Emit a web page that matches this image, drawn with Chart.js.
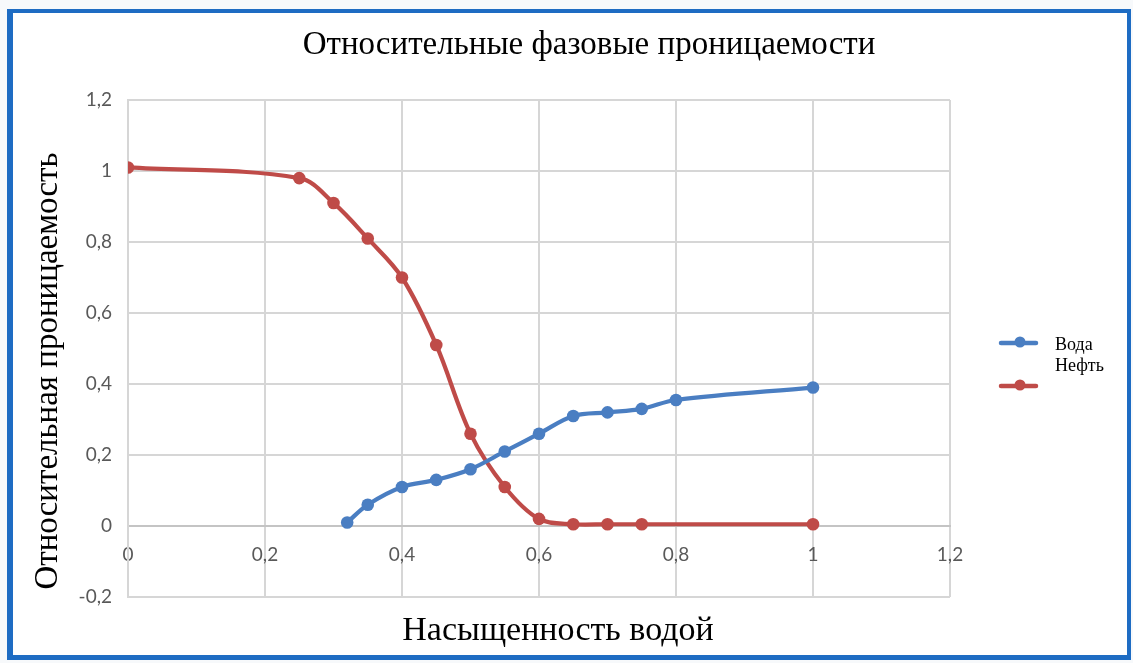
<!DOCTYPE html>
<html>
<head>
<meta charset="utf-8">
<script src="https://cdn.jsdelivr.net/npm/chart.js@4.4.1/dist/chart.umd.min.js"></script>
<style>
  html, body { margin: 0; padding: 0; background: #ffffff; }
  canvas { display: block; }
</style>
</head>
<body>
<canvas id="kr" width="1133" height="663"></canvas>
<script>
// Texts
const chartTitle = 'Относительные фазовые проницаемости';
const xAxisTitle = 'Насыщенность водой';
const yAxisTitle = 'Относительная проницаемость';
const seriesNames = ['Вода', 'Нефть'];

// Water relative permeability vs water saturation
const waterSat = [0.32, 0.35, 0.40, 0.45, 0.50, 0.55, 0.60, 0.65, 0.70, 0.75, 0.80, 1.00];
const waterKr  = [0.01, 0.06, 0.11, 0.13, 0.16, 0.21, 0.26, 0.31, 0.32, 0.33, 0.355, 0.39];

// Oil relative permeability vs water saturation
const oilSat = [0.00, 0.25, 0.30, 0.35, 0.40, 0.45, 0.50, 0.55, 0.60, 0.65, 0.70, 0.75, 1.00];
const oilKr  = [1.01, 0.98, 0.91, 0.81, 0.70, 0.51, 0.26, 0.11, 0.02, 0.005, 0.005, 0.005, 0.005];

// Axis ticks
const xTickValues = [0, 0.2, 0.4, 0.6, 0.8, 1, 1.2];
const xTickLabels = ['0', '0,2', '0,4', '0,6', '0,8', '1', '1,2'];
const yTickValues = [-0.2, 0, 0.2, 0.4, 0.6, 0.8, 1, 1.2];
const yTickLabels = ['-0,2', '0', '0,2', '0,4', '0,6', '0,8', '1', '1,2'];

const seriesColors = ['#4A7EC2', '#BF4B48'];
const gridColor = '#d6d6d6';
const tickFont = { family: 'Lato', size: 19 };
const tickColor = '#595959';
const serif = '"Liberation Serif", "DejaVu Serif", serif';

const toPoints = (xs, ys) => xs.map((x, i) => ({ x: x, y: ys[i] }));

// Page frame: light surround, white sheet, blue border
const framePlugin = {
  id: 'frame',
  beforeDraw(chart) {
    const ctx = chart.ctx;
    const W = chart.width, H = chart.height;
    ctx.save();
    ctx.fillStyle = '#f7f9fb';
    ctx.fillRect(0, 0, W, H);
    ctx.fillStyle = '#ffffff';
    ctx.fillRect(12, 13, W - 17, H - 19);
    ctx.fillStyle = '#1e6cc3';
    ctx.fillRect(7, 9, 6, H - 14);        // left
    ctx.fillRect(7, 9, W - 9, 4);         // top
    ctx.fillRect(W - 6, 9, 4, H - 14);    // right
    ctx.fillRect(7, H - 8, W - 9, 5);     // bottom
    ctx.restore();
  }
};

// Chart title, axis titles and legend
const textPlugin = {
  id: 'texts',
  afterDraw(chart) {
    const ctx = chart.ctx;
    ctx.save();
    ctx.fillStyle = '#000000';
    ctx.textAlign = 'center';
    ctx.textBaseline = 'middle';

    ctx.font = '33px ' + serif;
    ctx.fillText(chartTitle, 589, 45);

    ctx.font = '34px ' + serif;
    ctx.fillText(xAxisTitle, 558, 631);

    ctx.save();
    ctx.translate(48, 371);
    ctx.rotate(-Math.PI / 2);
    ctx.font = '33px ' + serif;
    ctx.fillText(yAxisTitle, 0, 0);
    ctx.restore();

    // legend
    const rows = [{ line: 343, text: 345 }, { line: 386, text: 366 }];
    chart.data.datasets.forEach((ds, i) => {
      const r = rows[i];
      ctx.strokeStyle = ds.borderColor;
      ctx.lineWidth = 4.5;
      ctx.lineCap = 'round';
      ctx.beginPath();
      ctx.moveTo(1001, r.line);
      ctx.lineTo(1036, r.line);
      ctx.stroke();
      ctx.fillStyle = ds.borderColor;
      ctx.beginPath();
      ctx.arc(1020, r.line - 1, 5.5, 0, Math.PI * 2);
      ctx.fill();
      ctx.fillStyle = '#000000';
      ctx.textAlign = 'left';
      ctx.font = '18px ' + serif;
      ctx.fillText(ds.label, 1055, r.text);
    });
    ctx.restore();
  }
};

const makeDataset = (label, pts, color) => ({
  label: label,
  data: pts,
  borderColor: color,
  backgroundColor: color,
  borderWidth: 4.2,
  pointRadius: 6.3,
  pointBorderWidth: 0,
  pointBackgroundColor: color,
  tension: 0.35,
  fill: false
});

new Chart(document.getElementById('kr'), {
  type: 'line',
  data: {
    datasets: [
      makeDataset(seriesNames[0], toPoints(waterSat, waterKr), seriesColors[0]),
      makeDataset(seriesNames[1], toPoints(oilSat, oilKr), seriesColors[1])
    ]
  },
  options: {
    responsive: false,
    animation: false,
    events: [],
    layout: { padding: { top: 100, right: 183, bottom: 66, left: 0 } },
    plugins: {
      legend: { display: false },
      title: { display: false },
      tooltip: { enabled: false }
    },
    scales: {
      x: {
        type: 'linear',
        min: 0,
        max: 1.2,
        position: { y: 0 },
        afterBuildTicks: s => { s.ticks = xTickValues.map(v => ({ value: v })); },
        afterFit: s => { s.height = 0; },
        ticks: {
          autoSkip: false,
          maxRotation: 0,
          padding: 17,
          font: tickFont,
          color: tickColor,
          callback: (v, i) => xTickLabels[i]
        },
        grid: { color: gridColor, lineWidth: 2, drawTicks: false },
        border: { display: true, color: '#c4c4c4', width: 2 }
      },
      y: {
        type: 'linear',
        min: -0.2,
        max: 1.2,
        afterBuildTicks: s => { s.ticks = yTickValues.map(v => ({ value: v })); },
        afterFit: s => { s.width = 128; },
        ticks: {
          padding: 16,
          font: tickFont,
          color: tickColor,
          callback: (v, i) => yTickLabels[i]
        },
        grid: { color: gridColor, lineWidth: 2, drawTicks: false },
        border: { display: true, color: gridColor, width: 2 }
      }
    }
  },
  plugins: [framePlugin, textPlugin]
});
</script>
</body>
</html>
